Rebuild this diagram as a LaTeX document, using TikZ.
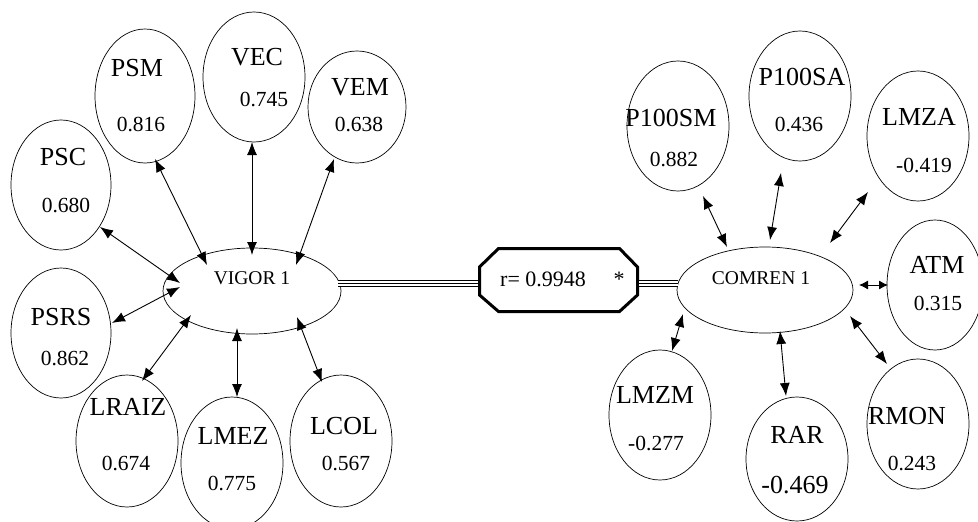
\documentclass[tikz,border=0pt]{standalone}
\usepackage{fontspec}
\setmainfont{Liberation Serif}
\usetikzlibrary{arrows.meta,calc,shapes.geometric}
\begin{document}
\begin{tikzpicture}[x=1pt,y=-1pt,
 ell/.style={draw,ellipse,line width=0.7pt,inner sep=0pt},
 lab/.style={anchor=base,inner sep=0pt,font=\fontsize{26}{26}\selectfont},
 num/.style={anchor=base,inner sep=0pt,font=\fontsize{21.5}{21.5}\selectfont},
 fac/.style={anchor=base,inner sep=0pt,font=\fontsize{19.5}{19.5}\selectfont},
 rtxt/.style={anchor=base,inner sep=0pt,font=\fontsize{22}{22}\selectfont},
 arr/.style={{Latex[length=13pt,width=10pt]}-{Latex[length=13pt,width=10pt]},line width=0.9pt},
 sarr/.style={{Latex[length=9pt,width=9pt]}-{Latex[length=9pt,width=9pt]},line width=0.9pt},
 triple/.style={line width=7.5pt,postaction={draw,white,line width=4.5pt},postaction={draw,black,line width=1pt}}]
\useasboundingbox[fill=white] (0,0) rectangle (978,522);

% left ellipses
\node[ell,minimum width=100pt,minimum height=130pt] (psc) at (61,185) {};
\node[ell,minimum width=100pt,minimum height=134pt] (psm) at (145,96) {};
\node[ell,minimum width=102pt,minimum height=130pt] (vec) at (254,77) {};
\node[ell,minimum width=98pt,minimum height=112pt] (vem) at (357,107) {};
\node[ell,minimum width=178pt,minimum height=86pt] (vigor) at (252,291) {};
\node[ell,minimum width=100pt,minimum height=130pt] (psrs) at (61,333) {};
\node[ell,minimum width=102pt,minimum height=132pt] (lraiz) at (127,441) {};
\node[ell,minimum width=102pt,minimum height=132pt] (lmez) at (232,463) {};
\node[ell,minimum width=102pt,minimum height=132pt] (lcol) at (341,441) {};

% right ellipses
\node[ell,minimum width=176pt,minimum height=86pt] (comren) at (765,290) {};
\node[ell,minimum width=102pt,minimum height=130pt] (p100sm) at (678,126) {};
\node[ell,minimum width=102pt,minimum height=130pt] (p100sa) at (800,96) {};
\node[ell,minimum width=102pt,minimum height=130pt] (lmza) at (918,136) {};
\node[ell,minimum width=96pt,minimum height=130pt] (atm) at (935,285) {};
\node[ell,minimum width=102pt,minimum height=130pt] (lmzm) at (660,415) {};
\node[ell,minimum width=102pt,minimum height=124pt] (rar) at (797,459) {};
\node[ell,minimum width=102pt,minimum height=130pt] (rmon) at (918,424) {};

% centre box
\node[minimum width=161pt,minimum height=66pt,inner sep=0pt] (box) at (558.5,280) {};
\draw[line width=3pt,line join=miter]
  ($(box.center)+(-79,-13)$) -- ($(box.center)+(-60,-31.5)$) -- ($(box.center)+(61,-31.5)$)
  -- ($(box.center)+(79,-13)$) -- ($(box.center)+(79,15)$) -- ($(box.center)+(61,31.5)$)
  -- ($(box.center)+(-60,31.5)$) -- ($(box.center)+(-79,15)$) -- cycle;
\node[rtxt,anchor=base west] (rval) at (500,286) {r= 0.9948};
\node[rtxt] (star) at (619,286) {*};

% triple connectors
\draw[triple] ($(vigor.center)+(86,-7.5)$) -- ($(box.west)+(0,3.5)$);
\draw[triple] ($(box.east)+(0,3.5)$) -- ($(comren.center)+(-87.5,-6.5)$);

% texts left
\node[lab] (tpsc) at (63,165) {PSC};   \node[num] (npsc) at (66,212) {0.680};
\node[lab] (tpsm) at (137,76) {PSM};   \node[num] (npsm) at (141,131) {0.816};
\node[lab] (tvec) at (257,65) {VEC};   \node[num] (nvec) at (264,106) {0.745};
\node[lab] (tvem) at (360,95) {VEM};   \node[num] (nvem) at (359,131) {0.638};
\node[fac] (tvigor) at (252,284) {VIGOR 1};
\node[lab] (tpsrs) at (61,325) {PSRS};  \node[num] (npsrs) at (65,365) {0.862};
\node[lab] (tlraiz) at (128,415) {LRAIZ}; \node[num] (nlraiz) at (126,470) {0.674};
\node[lab] (tlmez) at (233,444) {LMEZ}; \node[num] (nlmez) at (232,490) {0.775};
\node[lab] (tlcol) at (344,434) {LCOL}; \node[num] (nlcol) at (346,470) {0.567};

% texts right
\node[lab] (tp100sm) at (671,126) {P100SM}; \node[num] (np100sm) at (674,166) {0.882};
\node[lab] (tp100sa) at (802,85) {P100SA};  \node[num] (np100sa) at (799,131) {0.436};
\node[lab] (tlmza) at (919,125) {LMZA};     \node[num] (nlmza) at (924,172) {-0.419};
\node[lab] (tatm) at (937,273) {ATM};       \node[num] (natm) at (938,310) {0.315};
\node[fac] (tcomren) at (761,284) {COMREN 1};
\node[lab] (tlmzm) at (655,403) {LMZM};     \node[num] (nlmzm) at (656,450) {-0.277};
\node[lab] (trar) at (797,443) {RAR};       \node[lab] (nrar) at (795,493) {-0.469};
\node[lab] (trmon) at (907,424) {RMON};     \node[num] (nrmon) at (912,470) {0.243};

% arrows left
\draw[arr] ($(psc.center)+(39,42)$) -- ($(vigor.center)+(-72,-8)$);
\draw[arr] ($(psm.center)+(10,63)$) -- ($(vigor.center)+(-45,-26)$);
\draw[arr] ($(vec.center)+(-2,65)$) -- ($(vigor.center)+(0,-36)$);
\draw[arr] ($(vem.center)+(-23,52)$) -- ($(vigor.center)+(44,-26)$);
\draw[arr] ($(psrs.center)+(51,-10)$) -- ($(vigor.center)+(-72,-4)$);
\draw[arr] ($(lraiz.center)+(15,-60)$) -- ($(vigor.center)+(-61,24)$);
\draw[arr] ($(lmez.center)+(5,-66)$) -- ($(vigor.center)+(-15,37)$);
\draw[arr] ($(lcol.center)+(-19,-59)$) -- ($(vigor.center)+(45,26)$);

% arrows right
\draw[arr] ($(p100sm.center)+(25,70)$) -- ($(comren.center)+(-38,-43)$);
\draw[arr] ($(p100sa.center)+(-19,77)$) -- ($(comren.center)+(5,-50)$);
\draw[arr] ($(lmza.center)+(-50,56)$) -- ($(comren.center)+(65,-47)$);
\draw[sarr] ($(atm.center)+(-47,0)$) -- ($(comren.center)+(94,-5)$);
\draw[arr] ($(lmzm.center)+(12,-64)$) -- ($(comren.center)+(-82,24)$);
\draw[arr] ($(rar.center)+(-11,-63)$) -- ($(comren.center)+(15,41)$);
\draw[arr] ($(rmon.center)+(-31,-60)$) -- ($(comren.center)+(85,26)$);
\end{tikzpicture}
\end{document}
